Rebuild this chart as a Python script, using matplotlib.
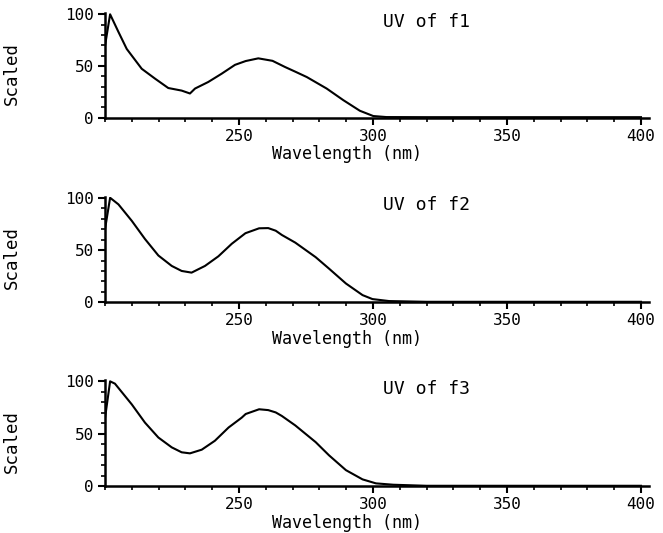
import matplotlib
matplotlib.use("Agg")
import matplotlib.pyplot as plt
from matplotlib.ticker import MultipleLocator

# values (wavelength in nm, scaled absorbance)
wl_f1 = [200, 201.9, 205, 208.1, 213.7, 218.7, 223.6, 228.6, 231.7, 233.6, 238.5,
         243.5, 248.5, 252.5, 257.2, 262.5, 267.2, 271, 275.3, 282.7, 288.9, 295.1,
         300.1, 305, 320, 350, 380, 400]
uv_f1 = [69.6, 100, 83, 66.5, 47.3, 37.7, 28.7, 26.2, 23.4, 28.2, 34.5,
         42.5, 51.1, 54.8, 57.4, 55, 49, 44.5, 39.3, 28.2, 17, 6.7,
         1.6, 0.6, 0.5, 0.5, 0.5, 0.5]

wl_f2 = [200, 201.9, 205, 210, 214.9, 219.9, 224.9, 228.6, 232.3, 237.3, 242.3,
         247.3, 252.4, 257.5, 260.9, 263.7, 266, 271, 278.6, 283.6, 289.9, 296.1,
         299.8, 306, 320, 350, 400]
uv_f2 = [70, 100, 93.7, 77.9, 60.6, 44.8, 34.8, 30, 28.4, 34.8, 44,
         56, 66.1, 70.8, 71, 68.5, 64.4, 57.1, 43.2, 32.2, 18, 6.9,
         3.1, 1.2, 0.5, 0.5, 0.5]

wl_f3 = [200, 201.9, 203.7, 210, 214.9, 219.9, 224.9, 228.6, 231.7, 236.1, 241,
         246.1, 251, 252.5, 257.5, 260.9, 263.7, 266, 271, 278.6, 283.6, 289.9,
         296.1, 301.1, 307.6, 320, 350, 400]
uv_f3 = [65, 100, 97.8, 78, 60.7, 46.5, 37.1, 32.4, 31.4, 34.9, 43.4,
         56, 65.4, 68.9, 73.4, 72.6, 70.4, 67, 58, 42.1, 29.5, 15.4,
         6.6, 2.8, 1.5, 0.5, 0.5, 0.5]

titles = ["UV of f1", "UV of f2", "UV of f3"]
x_ticks = [250, 300, 350, 400]
y_ticks = [0, 50, 100]

plt.rcParams['font.family'] = ['DejaVu Sans Mono']

fig = plt.figure(figsize=(6.63, 5.33), dpi=100)

# axes boxes [left, bottom, width, height] in figure fraction
boxes = [[0.1584, 0.7792, 0.8205, 0.1959],
         [0.1584, 0.4328, 0.8205, 0.1981],
         [0.1584, 0.0876, 0.8205, 0.1989]]

series = [(wl_f1, uv_f1), (wl_f2, uv_f2), (wl_f3, uv_f3)]

for box, (wl, uv), title in zip(boxes, series, titles):
    ax = fig.add_axes(box)
    ax.plot(wl, uv, color="black", lw=1.5)
    ax.set_xlim(200, 403)
    ax.set_ylim(0, 101)

    ax.spines["top"].set_visible(False)
    ax.spines["right"].set_visible(False)
    ax.spines["left"].set_linewidth(1.8)
    ax.spines["bottom"].set_linewidth(1.8)

    ax.set_xticks(x_ticks)
    ax.set_yticks(y_ticks)
    ax.xaxis.set_minor_locator(MultipleLocator(10))
    ax.yaxis.set_minor_locator(MultipleLocator(10))
    ax.tick_params(which="major", direction="out", length=5, width=1.5,
                   labelsize=11.5, pad=3)
    ax.tick_params(which="minor", direction="out", length=3, width=1.2)

    ax.set_xlabel("Wavelength (nm)", fontsize=12, va="center")
    ax.xaxis.set_label_coords(0.445, -0.35)
    ax.set_ylabel("Scaled", fontsize=12.5, va="center")
    ax.yaxis.set_label_coords(-0.171, 0.42)

    ax.text(0.511, 0.917, title, transform=ax.transAxes, fontsize=13,
            ha="left", va="center")

plt.savefig("out.png", dpi=100)
